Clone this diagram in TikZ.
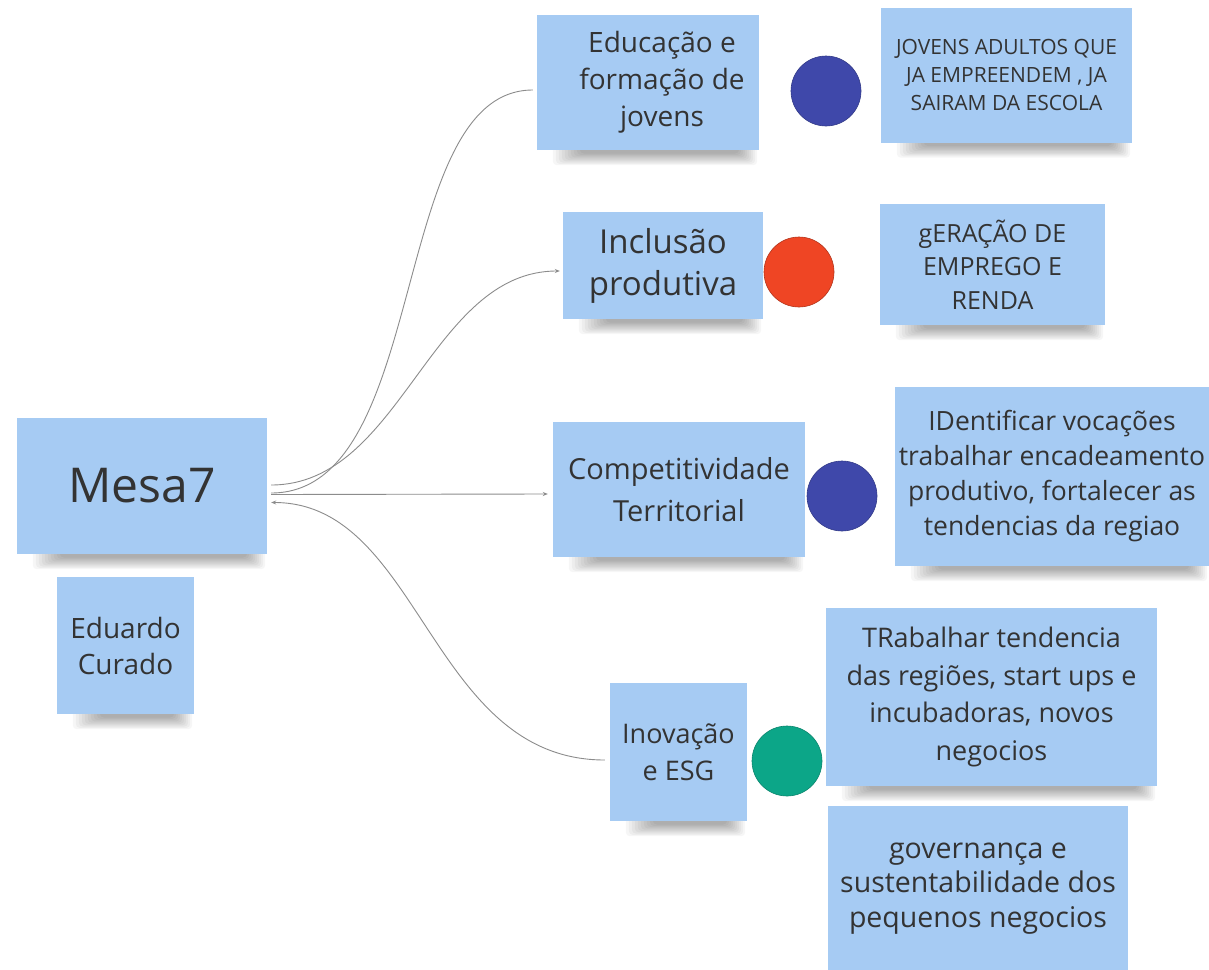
\documentclass[tikz,border=0pt]{standalone}
\usepackage{fontspec}
\setmainfont{Open Sans}
\usetikzlibrary{arrows.meta,backgrounds,calc}
\definecolor{notecol}{HTML}{A6CBF3}
\definecolor{txtcol}{HTML}{333333}
\definecolor{dblue}{HTML}{3F48AA}
\definecolor{redc}{HTML}{EF4524}
\definecolor{greenc}{HTML}{0CA688}
\definecolor{linecol}{HTML}{8C8C8C}
\begin{document}
\begin{tikzpicture}[x=1pt,y=-1pt,
  note/.style={rectangle, fill=notecol, inner sep=0pt, align=center, text=txtcol},
  dotc/.style={circle, minimum size=70pt, inner sep=0pt, line width=0.6pt},
  conn/.style={draw=linecol, line width=0.9pt},
  tipend/.style={-{Stealth[length=5pt,width=4pt]}}
]
\useasboundingbox (0,0) rectangle (1209,969);

% sticky notes
\node[note, minimum width=250pt, minimum height=136pt, font=\fontsize{48}{58}\selectfont] (mesa) at (142,486) {Mesa7};
\node[note, minimum width=137pt, minimum height=137pt, font=\fontsize{28}{36}\selectfont] (edu) at (125.5,645.5) {Eduardo\\Curado};
\node[note, minimum width=222pt, minimum height=135pt] (educ) at (648,82.5) {};
\node[text=txtcol, align=center, inner sep=0pt, font=\fontsize{28}{37}\selectfont] (educt) at (662,82) {Educação e\\formação de\\jovens};
\node[note, minimum width=251pt, minimum height=135pt, font=\fontsize{21}{28}\selectfont] (jov) at (1006.5,75) {JOVENS ADULTOS QUE\\JA EMPREENDEM , JA\\SAIRAM DA ESCOLA};
\node[note, minimum width=200pt, minimum height=107pt, font=\fontsize{33}{42}\selectfont] (incl) at (663,265.5) {Inclusão\\produtiva};
\node[note, minimum width=225pt, minimum height=121pt, font=\fontsize{25}{33.5}\selectfont] (ger) at (992.5,264.5) {gERAÇÃO DE\\EMPREGO E\\RENDA};
\node[note, minimum width=252pt, minimum height=135pt, font=\fontsize{29}{42}\selectfont] (comp) at (679,489.5) {Competitividade\\Territorial};
\node[note, minimum width=314pt, minimum height=179pt, font=\fontsize{26.5}{35}\selectfont] (ident) at (1052,476.5) {IDentificar vocações\\trabalhar encadeamento\\produtivo, fortalecer as\\tendencias da regiao};
\node[note, minimum width=137pt, minimum height=138pt, font=\fontsize{27}{37}\selectfont] (inov) at (678.5,752) {Inovação\\e ESG};
\node[note, minimum width=331pt, minimum height=178pt, font=\fontsize{27}{37.5}\selectfont] (trab) at (991.5,697) {TRabalhar tendencia\\das regiões, start ups e\\incubadoras, novos\\negocios};
\node[note, minimum width=300pt, minimum height=165pt, font=\fontsize{28.5}{34.5}\selectfont] (gov) at (978,888.5) {governança e\\sustentabilidade dos\\pequenos negocios};

% circles
\node[dotc, fill=dblue, draw=dblue!80!black] (c1) at (826,91) {};
\node[dotc, fill=redc, draw=redc!75!black] (c2) at (799,272) {};
\node[dotc, fill=dblue, draw=dblue!80!black] (c3) at (842,496) {};
\node[dotc, fill=greenc, draw=greenc!80!black] (c4) at (787,761) {};

% connectors
\draw[conn] ([xshift=4pt,yshift=-7pt]mesa.east) .. controls +(160,0) and +(-145,0) .. ([xshift=-4pt,yshift=-7.5pt]educ.west);
\draw[conn, tipend] ([xshift=4pt,yshift=1pt]mesa.east) .. controls +(130,0) and +(-130,0) .. ([xshift=-3pt,yshift=-5.5pt]incl.west);
\draw[conn, tipend] ([xshift=4pt,yshift=-8.5pt]mesa.east) -- ([xshift=-5pt,yshift=-4.5pt]comp.west);
\draw[conn, tipend] ([xshift=-5pt,yshift=-8pt]inov.west) .. controls +(-175,0) and +(150,0) .. ([xshift=4pt,yshift=-16.5pt]mesa.east);

% background and shadows
\begin{scope}[on background layer]
\fill[white] (0,0) rectangle (1209,969);
\foreach \n in {mesa,edu,educ,jov,incl,ger,comp,ident,inov,trab}{
  \foreach \k in {0,...,9}{
    \fill[black, opacity=0.035, rounded corners=4pt] ($(\n.south west)+(16+3*\k,-6)$) rectangle ($(\n.south east)+(-2-2*\k,15-1.3*\k)$);
  }
}
\end{scope}
\end{tikzpicture}
\end{document}
